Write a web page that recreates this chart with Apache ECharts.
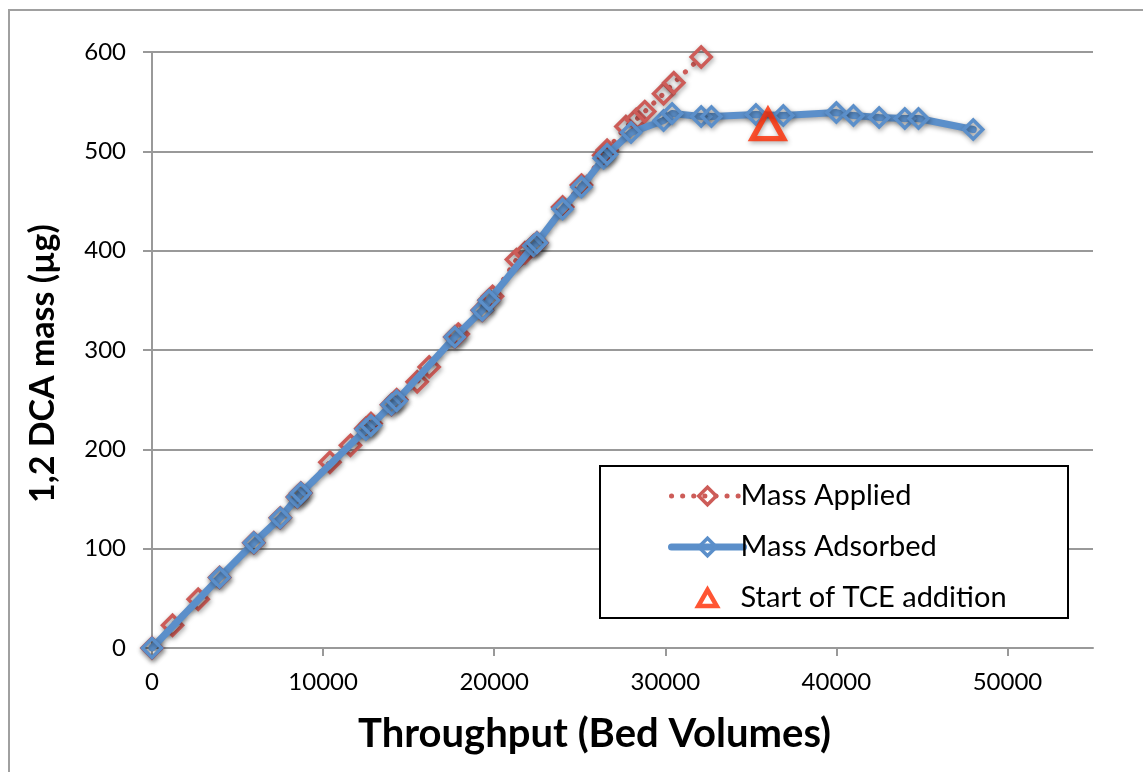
<!DOCTYPE html>
<html>
<head>
<meta charset="utf-8">
<script src="https://cdn.jsdelivr.net/npm/echarts@6/dist/echarts.min.js"></script>
<style>
  html, body { margin: 0; padding: 0; background: #fff; }
  #chart { width: 1143px; height: 772px; }
</style>
</head>
<body>
<div id="chart"></div>
<script>
// Throughput (bed volumes) vs. cumulative 1,2-DCA mass (µg)
const appliedX = [0, 1200, 2700, 3950, 5950, 7500, 8500, 8700, 10400, 11600, 12500, 12800, 14000, 14300,
  15500, 16200, 17700, 17900, 19300, 19700, 19900, 21300, 21800, 22300, 22500, 24000, 25100,
  26400, 26600, 27700, 28300, 28800, 29900, 30500, 32100];
const appliedY = [0, 23, 49, 71, 106, 131, 152, 156, 187, 204, 221, 226, 245, 250,
  268, 283, 313, 316, 340, 350, 354, 391, 398, 405, 408, 444, 466,
  496, 501, 525, 532, 540, 558, 569, 595];

const adsorbedX = [0, 3950, 5950, 7500, 8500, 8700, 12500, 12800, 14000, 14300, 17700, 19300, 19700,
  22300, 22500, 24000, 25100, 26400, 26600, 28000, 29900, 30400, 32100, 32700, 35300, 36900,
  40000, 41000, 42500, 44000, 44800, 48000];
const adsorbedY = [0, 71, 106, 131, 152, 156, 220, 224, 245, 249, 313, 340, 350,
  405, 408, 442, 464, 493, 497, 519, 531, 538, 535, 535, 537, 536,
  539, 536, 534, 533, 533, 522];

const tceStart = [36000, 527];

const xTicks = [0, 10000, 20000, 30000, 40000, 50000];
const yTicks = [0, 100, 200, 300, 400, 500, 600];

const pairs = (xs, ys) => xs.map((x, i) => [x, ys[i]]);

const RED = '#cd5c58';
const BLUE = '#5b8fca';
const TRI = '#ff2a00';
const AXIS_GRAY = '#999999';
const FONT = 'Lato';
const SHADOW = { shadowBlur: 5, shadowColor: 'rgba(0,0,0,0.38)', shadowOffsetX: 1, shadowOffsetY: 2 };

const chart = echarts.init(document.getElementById('chart'), null, { renderer: 'canvas' });

const option = {
  backgroundColor: '#ffffff',
  animation: false,
  grid: { left: 152, right: 50, top: 52, bottom: 124, containLabel: false },
  xAxis: {
    type: 'value',
    min: xTicks[0],
    max: 55000,
    interval: 10000,
    axisLine: { show: true, lineStyle: { color: AXIS_GRAY, width: 2 } },
    axisTick: { show: true, length: 8, lineStyle: { color: AXIS_GRAY, width: 2 },
      customValues: xTicks },
    axisLabel: { color: '#000', fontFamily: FONT, fontSize: 24, margin: 22,
      customValues: xTicks, formatter: v => String(v) },
    splitLine: { show: false }
  },
  yAxis: {
    type: 'value',
    min: yTicks[0],
    max: yTicks[yTicks.length - 1],
    interval: 100,
    axisLine: { show: true, lineStyle: { color: AXIS_GRAY, width: 2 } },
    axisTick: { show: true, length: 9, lineStyle: { color: AXIS_GRAY, width: 2 } },
    axisLabel: { color: '#000', fontFamily: FONT, fontSize: 24, margin: 26 },
    splitLine: { show: true, lineStyle: { color: AXIS_GRAY, width: 2 } }
  },
  legend: {
    orient: 'vertical',
    left: 663,
    top: 476,
    z: 30,
    itemWidth: 72,
    itemHeight: 22,
    itemGap: 21,
    itemStyle: { borderWidth: 'inherit', shadowBlur: 0, shadowOffsetX: 0, shadowOffsetY: 0 },
    lineStyle: { width: 'inherit', shadowBlur: 0, shadowOffsetX: 0, shadowOffsetY: 0 },
    textStyle: { fontFamily: FONT, fontSize: 29, color: '#000', lineHeight: 30, padding: [0, 0, 0, -8] },
    data: [
      { name: 'Mass Applied' },
      { name: 'Mass Adsorbed' },
      // extra move-to points pad the icon's bounds so the triangle draws a little smaller
      { name: 'Start of TCE addition', icon: 'path://M-3,-2.5 M19,16.5 M8,0 L16,14 L0,14 Z',
        itemStyle: { color: 'rgba(255,255,255,0)', borderColor: TRI, borderWidth: 4.5 } }
    ]
  },
  series: [
    {
      name: 'Mass Applied',
      type: 'line',
      data: pairs(appliedX, appliedY),
      symbol: 'diamond',
      symbolSize: 20,
      lineStyle: Object.assign({ color: RED, width: 5, type: [0.1, 11], cap: 'round' }, SHADOW),
      itemStyle: Object.assign({ color: 'rgba(255,255,255,0)', borderColor: RED, borderWidth: 3.5 }, SHADOW),
      z: 2
    },
    {
      name: 'Mass Adsorbed',
      type: 'line',
      data: pairs(adsorbedX, adsorbedY),
      symbol: 'diamond',
      symbolSize: 19,
      lineStyle: Object.assign({ color: BLUE, width: 7, cap: 'round', join: 'round' }, SHADOW),
      itemStyle: Object.assign({ color: 'rgba(255,255,255,0)', borderColor: BLUE, borderWidth: 3.5 }, SHADOW),
      z: 3
    },
    {
      name: 'Start of TCE addition',
      type: 'scatter',
      data: [tceStart],
      symbol: 'triangle',
      symbolSize: [31, 28],
      itemStyle: Object.assign({ color: 'rgba(255,255,255,0)', borderColor: TRI, borderWidth: 5.5 }, SHADOW),
      z: 4
    }
  ],
  graphic: [
    // outer chart border
    { type: 'rect', z: -10, shape: { x: 9, y: 10, width: 1300, height: 900 },
      style: { fill: 'none', stroke: '#a0a0a0', lineWidth: 2 } },
    // legend frame
    { type: 'rect', z: 5, shape: { x: 600, y: 466, width: 468, height: 152 },
      style: { fill: '#fff', stroke: '#000', lineWidth: 2 } },
    // axis titles
    { type: 'text', z: 20, left: 358, top: 714,
      style: { text: 'Throughput (Bed Volumes)', fontFamily: FONT, fontWeight: 'bold', fontSize: 40, fill: '#000' } },
    { type: 'text', z: 20, x: 26, y: 503, rotation: Math.PI / 2,
      style: { text: '1,2 DCA mass (µg)', fontFamily: FONT, fontWeight: 'bold', fontSize: 34, fill: '#000' } }
  ]
};

chart.setOption(option);
</script>
</body>
</html>
